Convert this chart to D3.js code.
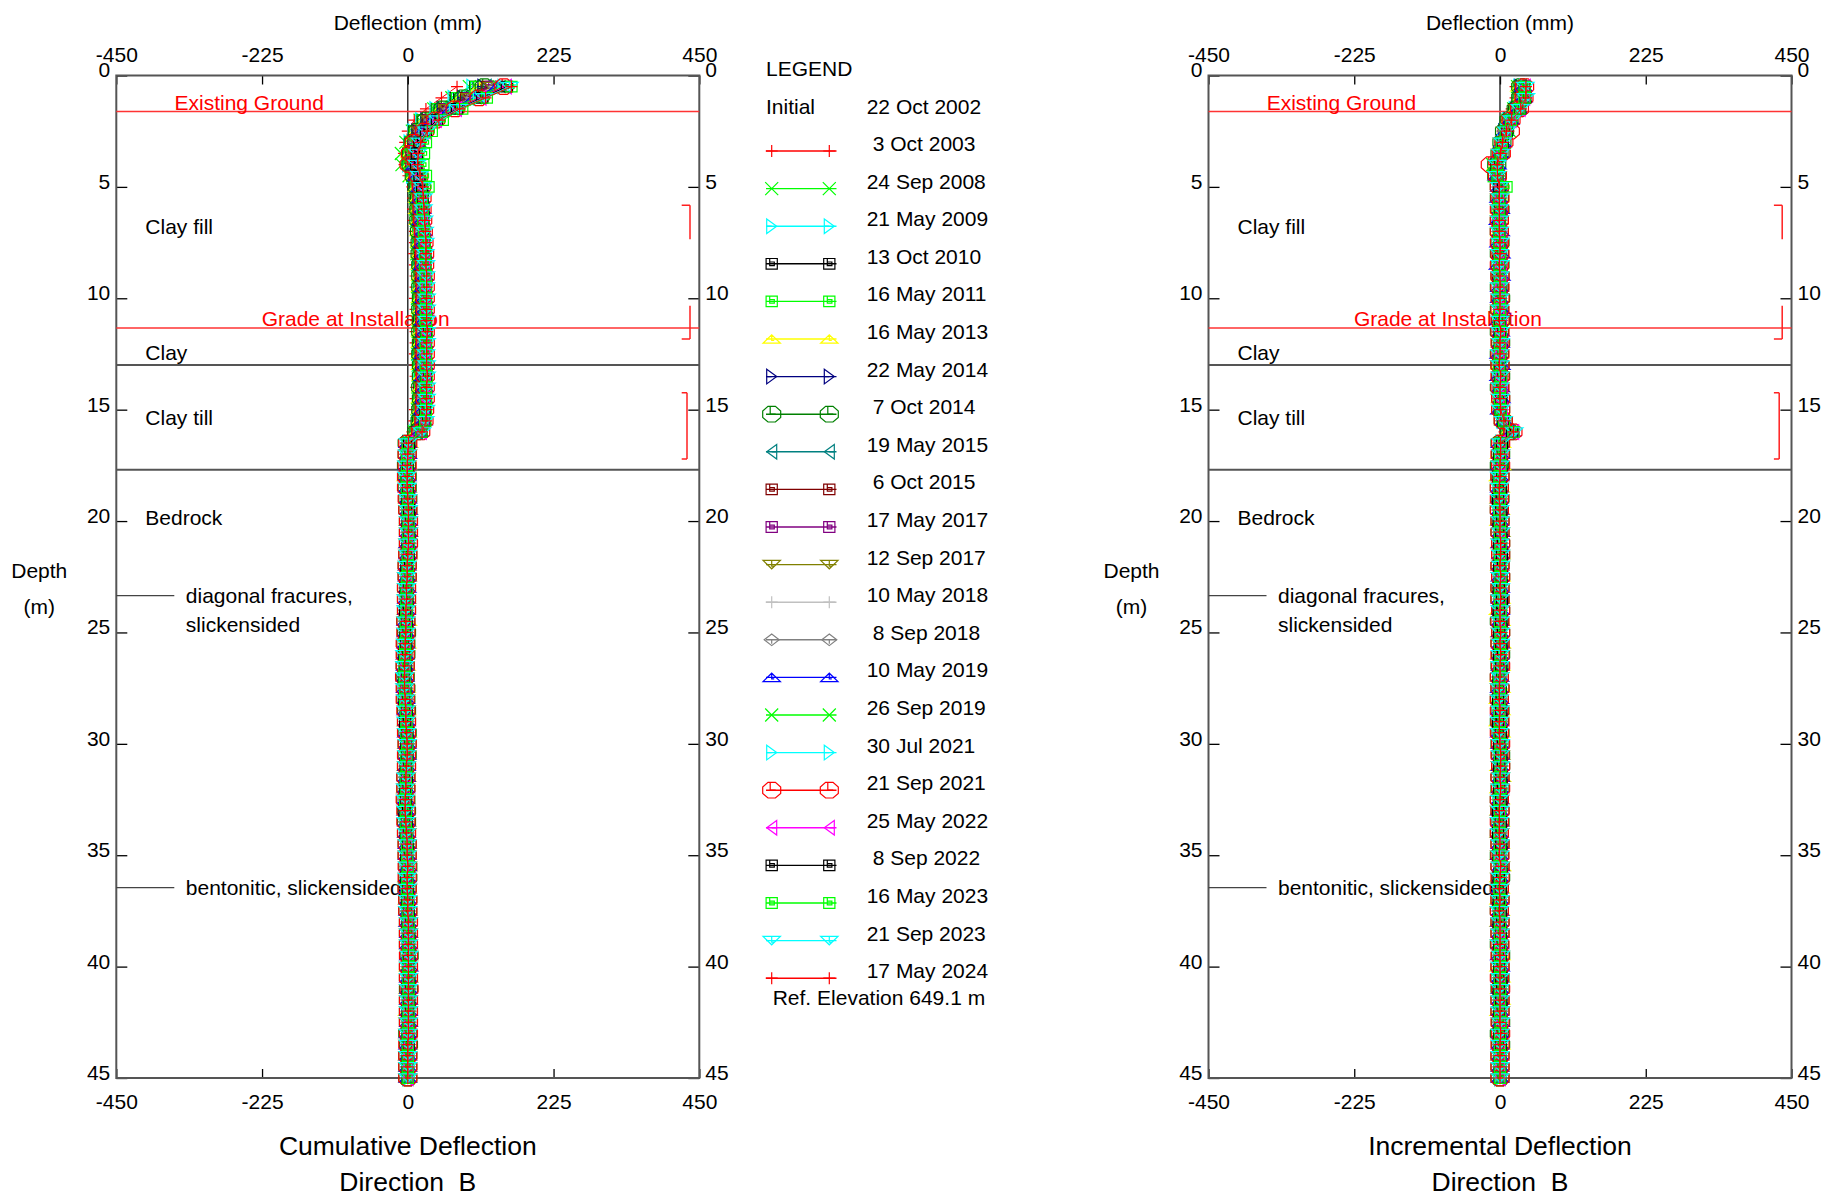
<!DOCTYPE html>
<html>
<head>
<meta charset="utf-8">
<script src="https://cdn.jsdelivr.net/npm/d3@7"></script>
<style>
  body { margin: 0; background: #fff; }
  svg { font-family: "Liberation Sans", Arial, sans-serif; }
</style>
</head>
<body>
<script>
// Constants
const width = 1824;
const height = 1197;
const panelW = 583;
const plotTop = 75.5, plotBottom = 1078;
const font = "Liberation Sans, Arial, sans-serif";

// reading depths (m)
const depths = [0.5,1,1.5,2,2.5,3,3.5,4,4.5,5,5.5,6,6.5,7,7.5,8,8.5,9,9.5,10,10.5,11,11.5,12,12.5,13,13.5,14,14.5,15,
  15.5,16,16.5,17,17.5,18,18.5,19,19.5,20,20.5,21,21.5,22,22.5,23,23.5,24,24.5,25,25.5,26,26.5,27,27.5,28,28.5,29,29.5,30,
  30.5,31,31.5,32,32.5,33,33.5,34,34.5,35,35.5,36,36.5,37,37.5,38,38.5,39,39.5,40,40.5,41,41.5,42,42.5,43,43.5,44,44.5,45];

const xTicks = [-450, -225, 0, 225, 450];
const depthTicks = [0, 5, 10, 15, 20, 25, 30, 35, 40, 45];

const surveyDates = ["3 Oct 2003","24 Sep 2008","21 May 2009","13 Oct 2010","16 May 2011","16 May 2013","22 May 2014",
  "7 Oct 2014","19 May 2015","6 Oct 2015","17 May 2017","12 Sep 2017","10 May 2018","8 Sep 2018","10 May 2019",
  "26 Sep 2019","30 Jul 2021","21 Sep 2021","25 May 2022","8 Sep 2022","16 May 2023","21 Sep 2023","17 May 2024"];

// cumulative deflection (mm) at each reading depth, one array per survey
const c2003Oct03 = [76,52,28,10,0,-4,-6,-5,1,7,8,8,9,11,11,10,11,12,12,11,12,13,12,12,11,12,12,13,12,11,10,7,
  0,-1,-1,-2,-1,0,0,1,1,1,0,0,-1,-1,-1,-2,-2,-1,-1,-2,-2,-3,-3,-2,-2,-1,-1,0,-1,-1,-2,-2,-3,-2,-1,-1,-1,0,0,0,-1,0,0,1,1,1,1,1,1,1,0,1,1,0,0,0,0,0];
const c2008Sep24 = [95,68,40,19,7,-3,-10,-9,2,11,12,12,13,15,15,14,15,16,16,15,16,17,16,16,15,16,17,16,16,15,14,10,
  1,0,-1,-1,0,1,1,2,1,0,0,-1,-2,-1,-2,-2,-1,-2,-2,-3,-4,-4,-3,-3,-2,-2,-1,-1,-1,-2,-3,-3,-4,-3,-2,-2,-1,-1,0,-1,-1,0,-1,0,1,1,2,1,1,1,1,1,0,0,0,1,0,0];
const c2009May21 = [99,70,42,20,8,2,0,0,6,11,12,14,13,16,15,17,15,18,16,17,16,18,17,18,15,17,16,19,16,17,14,11,
  0,-1,-2,-1,-1,0,1,1,0,0,1,0,-1,-1,-2,-2,-2,-1,-2,-2,-3,-3,-4,-3,-2,-2,-2,-1,-1,-1,-2,-3,-3,-3,-2,-1,-1,-1,0,-1,0,0,0,1,0,1,1,2,1,1,1,1,1,1,0,0,0,0];
const c2010Oct13 = [104,74,45,23,10,4,1,2,7,12,13,14,15,16,17,17,17,18,18,17,18,18,18,18,17,18,19,18,18,17,16,12,
  -1,-1,-2,-2,-1,0,0,1,1,1,0,-1,-1,-2,-2,-3,-2,-2,-2,-3,-3,-4,-4,-3,-3,-2,-1,-1,-1,-2,-2,-3,-3,-2,-2,-2,-1,-1,-1,0,-1,0,1,1,1,1,1,1,2,1,1,1,1,0,0,0,0,0];
const c2011May16 = [105,76,46,23,11,4,2,2,7,13,14,14,15,16,17,17,18,18,18,18,18,19,18,19,18,18,19,19,18,18,17,12,
  0,0,-1,-1,0,0,1,1,1,0,0,-1,-1,-1,-1,-2,-2,-2,-2,-2,-3,-3,-3,-4,-3,-2,-2,-1,-1,-1,-2,-2,-3,-3,-2,-1,-1,0,0,0,-1,-1,0,0,1,1,1,1,1,2,1,1,1,0,0,0,0,0];
const c2013May16 = [111,81,50,26,13,6,3,3,9,14,15,15,16,17,18,18,18,19,19,19,19,20,19,19,19,19,20,20,19,19,18,13,
  2,-1,0,-3,0,-1,1,0,2,0,1,-1,0,-2,-1,-3,0,-2,-1,-4,-2,-4,-2,-4,-1,-3,0,-2,-1,-3,-1,-4,-2,-3,-1,-2,0,-1,1,-2,0,-1,1,0,2,1,2,0,2,0,1,-1,1,0,1,-1,0,0];
const c2014May22 = [116,85,53,28,14,8,5,5,10,15,16,16,17,18,19,19,19,20,20,20,20,20,21,20,20,20,21,21,20,20,19,14,
  0,-1,-1,-1,0,0,1,1,1,0,0,-1,-1,-1,-2,-2,-2,-2,-2,-3,-3,-3,-4,-3,-2,-2,-2,-1,-1,-2,-2,-3,-3,-3,-2,-1,-1,-1,0,-1,0,0,0,1,1,1,1,1,1,1,1,1,0,0,0,0,0,0];
const c2014Oct07 = [118,86,54,29,15,8,5,5,10,15,16,17,17,18,19,19,20,20,20,21,20,21,20,21,20,21,21,20,21,20,19,14,
  -1,-1,-2,-1,-1,0,0,1,1,1,0,-1,-1,-2,-2,-2,-3,-2,-3,-3,-4,-4,-3,-3,-2,-2,-1,-1,-1,-2,-3,-3,-3,-2,-2,-2,-1,-1,0,0,-1,0,0,1,1,1,2,1,1,1,1,1,1,0,1,0,0,0];
const c2015May19 = [121,88,56,30,16,9,6,6,11,15,16,17,18,19,20,20,20,21,21,21,21,21,22,21,21,21,22,21,21,21,20,15,
  0,0,-1,-1,-1,0,0,1,0,0,0,-1,-1,-1,-2,-2,-2,-3,-3,-3,-3,-4,-4,-3,-2,-2,-2,-1,-1,-1,-2,-2,-3,-3,-2,-2,-1,-1,0,-1,-1,0,0,0,1,1,1,1,2,1,1,1,0,0,0,0,0,0];
const c2015Oct06 = [123,90,57,31,17,9,6,6,11,16,17,19,17,20,21,19,22,20,23,21,23,21,22,23,20,22,23,21,23,20,21,15,
  0,-1,-1,-2,-1,0,1,1,1,0,0,0,-1,-2,-2,-2,-2,-2,-3,-3,-4,-4,-3,-3,-3,-2,-1,-1,-2,-2,-2,-3,-3,-2,-2,-1,-1,-1,0,0,-1,-1,0,1,1,1,1,1,1,1,1,1,1,1,0,0,0,0];
const c2017May17 = [128,94,60,34,19,11,8,7,12,17,18,19,20,21,22,22,22,23,23,23,23,23,23,23,22,23,23,23,23,22,21,16,
  0,-1,-2,-2,-1,-1,0,1,1,1,0,-1,-1,-2,-2,-3,-3,-2,-3,-3,-4,-5,-4,-3,-3,-2,-2,-1,-1,-2,-3,-3,-4,-3,-2,-2,-1,-1,-1,-1,-1,0,0,1,1,1,1,1,1,1,1,1,1,0,0,0,0,0];
const c2017Sep12 = [130,96,61,34,19,11,8,8,13,17,18,19,20,21,22,22,23,23,23,23,23,24,23,23,23,23,24,23,23,23,22,17,
  1,0,-1,-1,-1,0,0,1,1,0,0,-1,-2,-2,-2,-2,-3,-3,-3,-3,-4,-4,-4,-3,-2,-2,-2,-1,-1,-2,-2,-3,-3,-3,-2,-1,-1,-1,0,-1,0,0,0,1,1,1,2,1,1,1,1,1,0,0,0,0,0,0];
const c2018May10 = [134,99,64,36,21,13,9,9,13,18,19,20,21,22,23,23,24,24,24,24,24,24,24,24,24,24,24,24,24,23,22,17,
  1,-1,0,-3,-1,1,-1,2,0,1,-1,0,-2,-1,-3,-1,-3,-2,-4,-2,-5,-3,-4,-2,-4,-1,-3,0,-2,-1,-3,-2,-4,-2,-3,-1,-2,0,-1,1,-1,1,0,2,0,2,1,1,2,0,1,1,0,1,0,0,1,0];
const c2018Sep08 = [136,100,65,37,21,13,10,9,14,18,19,20,21,22,23,23,24,24,24,24,25,24,24,25,24,24,25,24,24,24,23,18,
  0,-1,-2,-2,-1,0,0,1,1,1,0,-1,-1,-2,-2,-3,-3,-3,-3,-4,-4,-5,-4,-3,-3,-2,-2,-1,-2,-2,-3,-3,-4,-3,-3,-2,-1,-1,-1,-1,-1,0,0,1,1,1,1,1,1,1,1,1,1,1,0,0,0,0];
const c2019May10 = [138,102,66,38,22,14,10,10,14,19,20,22,21,24,23,25,23,26,24,25,26,24,26,25,24,26,24,26,25,23,24,18,
  0,0,-1,-1,-1,0,1,1,1,0,0,-1,-1,-1,-2,-2,-3,-3,-3,-4,-4,-4,-4,-3,-3,-2,-2,-1,-1,-2,-2,-3,-3,-3,-2,-2,-1,-1,0,-1,-1,0,0,0,1,1,1,2,1,1,1,1,1,0,0,0,0,0];
const c2019Sep26 = [141,104,68,39,23,8,3,2,13,19,20,21,22,23,24,24,25,25,25,25,26,25,25,26,25,25,26,25,25,25,24,19,
  1,0,-1,-2,-1,-1,0,1,1,1,0,0,-1,-2,-2,-3,-3,-3,-4,-4,-5,-5,-4,-3,-3,-2,-2,-1,-2,-2,-3,-3,-4,-3,-2,-2,-1,-1,-1,-1,-1,0,0,1,1,1,1,1,2,1,1,1,1,0,0,0,0,0];
const c2021Jul30 = [147,109,72,42,25,16,12,12,16,20,21,22,23,24,25,25,26,26,26,26,27,26,27,26,26,26,27,26,26,26,25,20,
  1,0,-1,-1,-1,0,0,1,1,0,0,-1,-1,-2,-2,-3,-3,-3,-3,-4,-4,-5,-5,-4,-3,-3,-2,-1,-1,-2,-3,-3,-3,-3,-2,-2,-1,-1,0,-1,-1,0,0,1,1,1,1,1,1,1,1,1,1,0,0,0,0,0];
const c2021Sep21 = [148,110,73,43,26,10,4,2,17,21,22,22,23,24,25,26,26,27,27,27,27,27,27,27,27,27,27,27,27,26,25,20,
  0,-1,-1,-2,-2,-1,0,1,1,1,0,-1,-1,-2,-2,-2,-3,-3,-4,-4,-4,-5,-4,-4,-3,-2,-2,-1,-2,-2,-3,-3,-4,-3,-3,-2,-1,-1,-1,-1,-1,0,0,1,1,1,1,1,1,2,1,1,1,1,0,0,0,0];
const c2022May25 = [152,113,75,44,27,18,14,13,17,21,22,24,23,26,25,27,26,28,26,28,27,29,27,28,26,28,27,29,26,28,25,21,
  0,0,-1,-2,-1,0,0,1,1,0,0,-1,-1,-2,-2,-3,-3,-3,-4,-4,-5,-5,-4,-4,-3,-2,-2,-1,-1,-2,-3,-3,-4,-3,-2,-2,-1,-1,0,-1,-1,0,0,0,1,1,1,1,1,1,1,1,1,0,0,0,0,0];
const c2022Sep08 = [153,115,76,45,28,18,14,13,18,22,23,24,24,25,26,27,27,28,28,28,28,28,28,28,28,28,28,28,28,27,26,21,
  2,-1,0,-2,0,-1,2,0,2,0,1,-2,-1,-3,-1,-4,-2,-4,-3,-5,-4,-6,-4,-5,-2,-4,-1,-2,-1,-3,-2,-4,-3,-5,-2,-3,0,-2,0,-2,0,-1,1,0,2,1,2,1,2,0,2,0,1,0,1,0,0,0];
const c2023May16 = [160,122,84,54,37,28,25,24,28,32,22,23,24,25,26,27,27,28,28,28,28,28,29,28,28,28,29,28,28,28,27,21,
  0,-1,-1,-2,-1,0,0,1,1,1,0,0,-1,-2,-2,-2,-3,-3,-4,-4,-5,-5,-4,-4,-3,-2,-2,-1,-2,-2,-3,-3,-4,-3,-3,-2,-1,-1,0,-1,-1,0,0,1,1,1,1,1,1,1,1,1,1,0,0,0,0,0];
const c2023Sep21 = [157,118,78,47,29,19,15,14,18,23,24,24,25,26,27,27,28,28,28,29,29,29,29,29,28,29,29,29,29,28,27,22,
  0,-1,-2,-2,-1,0,1,1,1,0,0,-1,-2,-2,-3,-3,-3,-3,-4,-5,-5,-5,-5,-4,-3,-3,-2,-1,-2,-2,-3,-4,-4,-3,-3,-2,-1,-1,-1,-1,-1,0,0,1,1,1,2,1,1,1,1,1,1,0,0,0,0,0];
const c2024May17 = [160,120,80,48,30,20,16,15,19,23,24,25,26,27,28,28,28,29,29,29,29,29,30,29,29,29,30,29,29,29,28,22,
  1,0,-1,-1,-1,0,1,1,1,1,0,-1,-1,-2,-2,-3,-3,-3,-4,-4,-5,-5,-5,-4,-3,-3,-2,-1,-1,-2,-3,-3,-4,-4,-3,-2,-1,-1,0,-1,-1,0,0,1,1,1,1,1,1,1,1,1,1,1,0,0,0,0];

const cumulative = [c2003Oct03, c2008Sep24, c2009May21, c2010Oct13, c2011May16, c2013May16, c2014May22, c2014Oct07,
  c2015May19, c2015Oct06, c2017May17, c2017Sep12, c2018May10, c2018Sep08, c2019May10, c2019Sep26, c2021Jul30,
  c2021Sep21, c2022May25, c2022Sep08, c2023May16, c2023Sep21, c2024May17];

// incremental deflection = change of the cumulative reading over each 0.5 m interval
const incremental = cumulative.map(s => s.map((v, i) => i < s.length - 1 ? v - s[i + 1] : v));

// site annotations
const redLines = [{label: "Existing Ground", depth: 1.62}, {label: "Grade at Installation", depth: 11.33}];
const layerBoundaries = [13.0, 17.7];
const layerLabels = [{label: "Clay fill", depth: 7.11}, {label: "Clay", depth: 12.77},
  {label: "Clay till", depth: 15.68}, {label: "Bedrock", depth: 20.17}];
const features = [{depth: 23.35, lines: ["diagonal fracures,", "slickensided"]},
  {depth: 36.45, lines: ["bentonitic, slickensided"]}];
const brackets = [[5.82, 7.35], [10.33, 11.83], [14.24, 17.21]];

// series styles
const colors = ["#ff0000","#00ff00","#00ffff","#000000","#00ff00","#ffff00","#000080","#008000","#008080","#800000",
  "#800080","#808000","#c0c0c0","#808080","#0000ff","#00ff00","#00ffff","#ff0000","#ff00ff","#000000","#00ff00",
  "#00ffff","#ff0000"];
const symbols = ["plus","cross","triRight","square","square","triUp","triRight","octagon","triLeft","square","square",
  "triDown","plus","diamond","triUp","cross","triRight","octagon","triLeft","square","square","triDown","plus"];

function symbolPath(type) {
  switch (type) {
    case "plus": return "M-6,0H6M0,-6V6";
    case "cross": return "M-6.5,-6.5L6.5,6.5M-6.5,6.5L6.5,-6.5";
    case "triRight": return "M-5,-7.3L5,0L-5,7.3ZM-5,0H0";
    case "triLeft": return "M5,-7.3L-5,0L5,7.3ZM5,0H0";
    case "triUp": return "M-8.7,4.2L0,-4.2L8.7,4.2ZM0,-4.2V1.5H2.5";
    case "triDown": return "M-8.7,-4.2L0,4.2L8.7,-4.2ZM0,-4.2V1.5H2.5";
    case "square": return "M-5.6,-5.3H5.6V5.3H-5.6ZM-2,-5.3V1.8H2.6V-1.8H-2";
    case "octagon": return "M-3.7,-7.8H3.7L9,-3.2V3.2L3.7,7.8H-3.7L-9,3.2V-3.2ZM-1.5,-7.8V0H4";
    case "diamond": return "M-7.5,0L0,-5.8L7.5,0L0,5.8ZM0,0V4";
  }
}

//Create an SVG
const svg = d3.select("body")
  .append("svg")
  .attr("width", width)
  .attr("height", height)
  .attr("font-family", font);

const y = d3.scaleLinear().domain([0, 45]).range([plotTop, plotBottom]);

function styleAxis(g) {
  g.select(".domain").remove();
  g.attr("font-family", font).attr("font-size", 21).attr("color", "#000");
  g.selectAll("line").attr("stroke-width", 1.3);
}

function drawPanel(x0, values, title) {
  const x1 = x0 + panelW;
  const x = d3.scaleLinear().domain([-450, 450]).range([x0, x1]);
  const cx = (x0 + x1) / 2;
  const g = svg.append("g");

  // axis title
  g.append("text").attr("x", cx).attr("y", 30).attr("text-anchor", "middle")
    .attr("font-size", 21).text("Deflection (mm)");

  g.append("g").attr("transform", `translate(0,${plotTop})`)
    .call(d3.axisTop(x).tickValues(xTicks).tickSize(-9).tickSizeOuter(0).tickPadding(13.5).tickFormat(d => String(d)))
    .call(styleAxis);
  g.append("g").attr("transform", `translate(0,${plotBottom})`)
    .call(d3.axisBottom(x).tickValues(xTicks).tickSize(-9).tickSizeOuter(0).tickPadding(16.4).tickFormat(d => String(d)))
    .call(styleAxis);
  g.append("g").attr("transform", `translate(${x0},0)`)
    .call(d3.axisLeft(y).tickValues(depthTicks).tickSize(-11).tickSizeOuter(0).tickPadding(6))
    .call(styleAxis)
    .selectAll("text").attr("dy", "0.07em");
  g.append("g").attr("transform", `translate(${x1},0)`)
    .call(d3.axisRight(y).tickValues(depthTicks).tickSize(-11).tickSizeOuter(0).tickPadding(6))
    .call(styleAxis)
    .selectAll("text").attr("dy", "0.07em");

  // zero line
  g.append("line").attr("x1", x(0)).attr("x2", x(0)).attr("y1", plotTop).attr("y2", plotBottom)
    .attr("stroke", "#111").attr("stroke-width", 1.3);

  // frame
  g.append("rect").attr("x", x0).attr("y", plotTop).attr("width", panelW).attr("height", plotBottom - plotTop)
    .attr("fill", "none").attr("stroke", "#555").attr("stroke-width", 2);

  // depth label
  g.append("text").attr("x", x0 - 77).attr("y", 577.5).attr("text-anchor", "middle").attr("font-size", 21).text("Depth");
  g.append("text").attr("x", x0 - 77).attr("y", 614).attr("text-anchor", "middle").attr("font-size", 21).text("(m)");

  // layer boundaries
  g.selectAll(".layer").data(layerBoundaries).enter().append("line")
    .attr("x1", x0).attr("x2", x1).attr("y1", d => y(d)).attr("y2", d => y(d))
    .attr("stroke", "#555").attr("stroke-width", 2);
  g.selectAll(".layerLabel").data(layerLabels).enter().append("text")
    .attr("x", x0 + 29).attr("y", d => y(d.depth)).attr("font-size", 21).text(d => d.label);

  // red reference lines
  g.selectAll(".redLine").data(redLines).enter().append("line")
    .attr("x1", x0).attr("x2", x1).attr("y1", d => y(d.depth)).attr("y2", d => y(d.depth))
    .attr("stroke", "#ff3333").attr("stroke-width", 1.5);
  g.selectAll(".redLabel").data(redLines).enter().append("text")
    .attr("x", (d, i) => x0 + (i === 0 ? 58.2 : 145.4)).attr("y", d => y(d.depth) - 1.5)
    .attr("font-size", 21).attr("fill", "#ff0000").text(d => d.label);

  // feature notes
  features.forEach(f => {
    g.append("line").attr("x1", x0).attr("x2", x0 + 58).attr("y1", y(f.depth)).attr("y2", y(f.depth))
      .attr("stroke", "#444").attr("stroke-width", 1.3);
    f.lines.forEach((t, j) => {
      g.append("text").attr("x", x0 + 69.5).attr("y", y(f.depth) + 7.3 + j * 28.7).attr("font-size", 21).text(t);
    });
  });

  // brackets on right side
  brackets.forEach((b, i) => {
    const bx = i === 2 ? x1 - 12.3 : x1 - 9.3;
    let d = `M${bx},${y(b[0])}V${y(b[1])}`;
    if (i !== 1) d += `M${x1 - 17.6},${y(b[0])}H${bx}`;
    if (i !== 0) d += `M${x1 - 17.6},${y(b[1])}H${bx}`;
    g.append("path").attr("d", d).attr("fill", "none").attr("stroke", "#ff2020").attr("stroke-width", 1.5);
  });

  // series
  const line = d3.line().x(d => x(d[0])).y(d => y(d[1]));
  values.forEach((s, k) => {
    const pts = s.map((v, i) => [v, depths[i]]);
    const sg = g.append("g");
    sg.append("path").attr("d", line(pts)).attr("fill", "none")
      .attr("stroke", colors[k]).attr("stroke-width", 1);
    sg.selectAll("path.m").data(pts).enter().append("path").attr("class", "m")
      .attr("transform", d => `translate(${x(d[0])},${y(d[1])})`)
      .attr("d", symbolPath(symbols[k]))
      .attr("fill", "none").attr("stroke", colors[k]).attr("stroke-width", 1.2);
  });

  // bottom titles
  g.append("text").attr("x", cx).attr("y", 1155).attr("text-anchor", "middle").attr("font-size", 26.5).text(title);
  g.append("text").attr("x", cx).attr("y", 1190.7).attr("text-anchor", "middle").attr("font-size", 26.5)
    .text("Direction\u00a0\u00a0B");
}

drawPanel(116.3, cumulative, "Cumulative Deflection");
drawPanel(1208.5, incremental, "Incremental Deflection");

// legend
const legend = svg.append("g").attr("font-size", 21);
legend.append("text").attr("x", 766).attr("y", 76).text("LEGEND");
legend.append("text").attr("x", 766).attr("y", 113.5).text("Initial");
legend.append("text").attr("x", 866.7).attr("y", 113.5).text("22 Oct 2002");
surveyDates.forEach((dt, i) => {
  const ly = 151 + 37.6 * i;
  legend.append("line").attr("x1", 766).attr("x2", 836.5).attr("y1", ly).attr("y2", ly)
    .attr("stroke", colors[i]).attr("stroke-width", 1.4);
  [771.7, 829.3].forEach(mx => {
    legend.append("path").attr("transform", `translate(${mx},${ly})`).attr("d", symbolPath(symbols[i]))
      .attr("fill", "none").attr("stroke", colors[i]).attr("stroke-width", 1.2);
  });
  const shift = dt.split(" ")[0].length === 1 ? 6 : 0;
  legend.append("text").attr("x", 866.7 + shift).attr("y", ly).text(dt);
});
legend.append("text").attr("x", 772.7).attr("y", 1005).text("Ref. Elevation 649.1 m");
</script>
</body>
</html>
